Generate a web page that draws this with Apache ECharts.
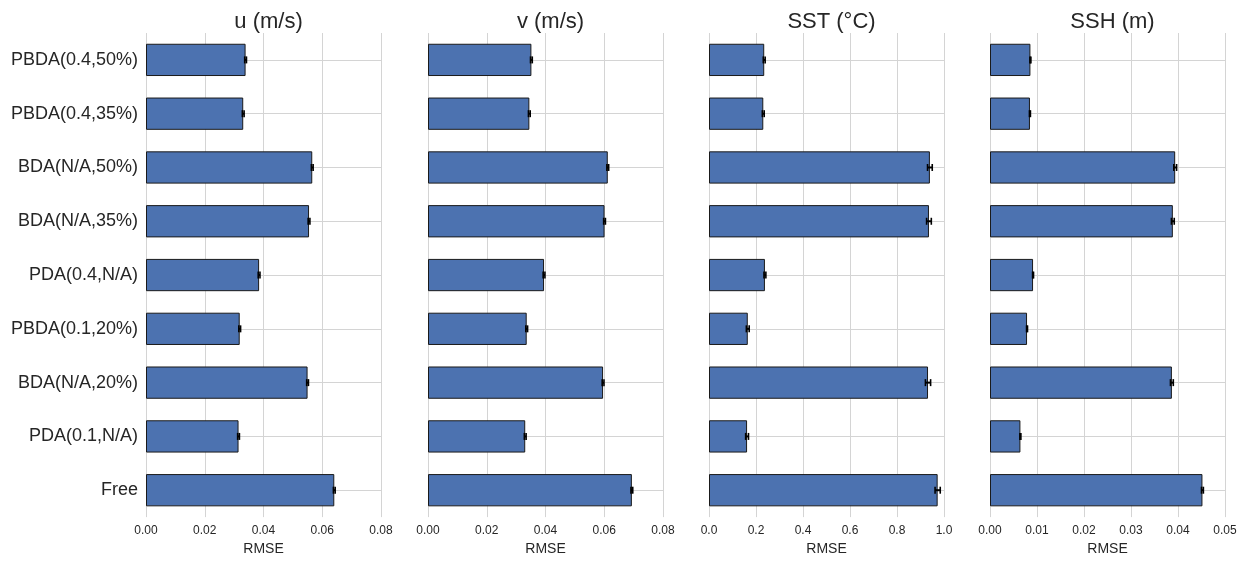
<!DOCTYPE html>
<html><head><meta charset="utf-8">
<script src="https://cdn.jsdelivr.net/npm/echarts@6/dist/echarts.min.js"></script>
<style>html,body{margin:0;padding:0;background:#fff}#c{width:1253px;height:561px}</style>
</head><body><div id="c"></div>
<script>
const categories = ['PBDA(0.4,50%)','PBDA(0.4,35%)','BDA(N/A,50%)','BDA(N/A,35%)','PDA(0.4,N/A)','PBDA(0.1,20%)','BDA(N/A,20%)','PDA(0.1,N/A)','Free'];
const titles = ['u (m/s)','v (m/s)','SST (°C)','SSH (m)'];
const uVals   = [0.0339,0.0331,0.0566,0.0555,0.0385,0.0319,0.0550,0.0315,0.0641];
const uErr    = [0.0003,0.0003,0.0003,0.0003,0.0003,0.0003,0.0003,0.0003,0.0003];
const vVals   = [0.0352,0.0345,0.0612,0.0601,0.0395,0.0336,0.0596,0.0331,0.0694];
const vErr    = [0.0003,0.0003,0.0003,0.0003,0.0003,0.0003,0.0003,0.0003,0.0003];
const sstVals = [0.235,0.231,0.940,0.936,0.238,0.165,0.932,0.162,0.973];
const sstErr  = [0.004,0.004,0.010,0.010,0.004,0.006,0.011,0.006,0.011];
const sshVals = [0.0086,0.0085,0.0394,0.0389,0.00916,0.00788,0.0387,0.00647,0.0452];
const sshErr  = [0.0001,0.0001,0.0003,0.0003,0.0001,0.0001,0.0003,0.0001,0.0002];
const xMax = [0.08,0.08,1.0,0.05];
const xInt = [0.02,0.02,0.2,0.01];
const xDec = [2,2,1,2];
const vals = [uVals,vVals,sstVals,sshVals];
const errs = [uErr,vErr,sstErr,sshErr];

const lefts = [146,428,709,990];
const W = 235;
const font = 'Liberation Sans, Arial, sans-serif';
const grid=[], xAxis=[], yAxis=[], series=[], title=[];
for (let i=0;i<4;i++){
  grid.push({left:lefts[i], top:33, width:W, height:487, containLabel:false});
  title.push({text:titles[i], left:lefts[i]+W/2, top:6, textAlign:'center',
    textStyle:{fontFamily:font,fontSize:22,fontWeight:'normal',color:'#262626'}});
  xAxis.push({gridIndex:i, type:'value', min:0, max:xMax[i], interval:xInt[i],
    name:'RMSE', nameLocation:'middle', nameGap:24,
    nameTextStyle:{fontFamily:font,fontSize:14,color:'#262626'},
    axisLine:{show:false}, axisTick:{show:false},
    axisLabel:{fontFamily:font,fontSize:12,color:'#262626',margin:8,
      formatter:v=>v.toFixed(xDec[i])},
    splitLine:{show:true,lineStyle:{color:'#d4d4d4',width:1}}});
  yAxis.push({gridIndex:i, type:'category', data:categories, inverse:true,
    axisLine:{show:false}, axisTick:{show:false}, splitLine:{show:false},
    axisLabel:{show:i===0, fontFamily:font, fontSize:18, color:'#262626', margin:8}});
  // horizontal gridlines at category centres (behind bars)
  series.push({type:'line', xAxisIndex:i, yAxisIndex:i, data:[], z:0, silent:true,
    markLine:{silent:true, z:0, symbol:['none','none'], label:{show:false},
      lineStyle:{color:'#d4d4d4',width:1,type:'solid'},
      data:categories.map(c=>({yAxis:c}))}});
  series.push({type:'bar', xAxisIndex:i, yAxisIndex:i, data:vals[i], barCategoryGap:'40%', z:2,
    itemStyle:{color:'#4C72B0', borderColor:'#1a1a1a', borderWidth:1}});
  series.push({type:'custom', xAxisIndex:i, yAxisIndex:i, z:3,
    data:vals[i].map((v,k)=>[v,k,errs[i][k]]),
    encode:{x:0,y:1},
    renderItem:(params,api)=>{
      const v=api.value(0), k=api.value(1), e=api.value(2);
      const a=api.coord([v-e,k]), b=api.coord([v+e,k]);
      const h=3.5;
      const st={stroke:'#000',lineWidth:1.6};
      return {type:'group',children:[
        {type:'line',shape:{x1:a[0],y1:a[1],x2:b[0],y2:b[1]},style:{stroke:'#000',lineWidth:2}},
        {type:'line',shape:{x1:a[0],y1:a[1]-h,x2:a[0],y2:a[1]+h},style:st},
        {type:'line',shape:{x1:b[0],y1:b[1]-h,x2:b[0],y2:b[1]+h},style:st}
      ]};
    }});
}
const chart = echarts.init(document.getElementById('c'),null,{renderer:'canvas'});
chart.setOption({animation:false, backgroundColor:'#fff', title, grid, xAxis, yAxis, series});
</script></body></html>
